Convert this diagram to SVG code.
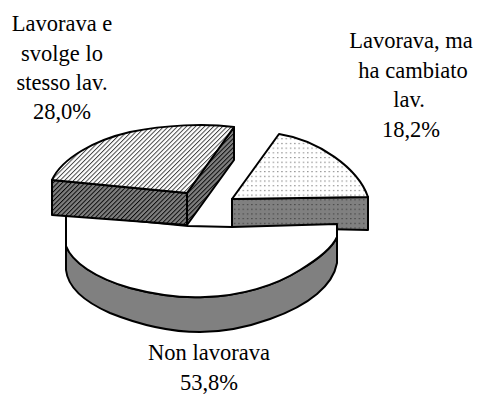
<svg xmlns="http://www.w3.org/2000/svg" width="480" height="397" viewBox="0 0 480 397">
<style>
.o{stroke:#000;stroke-width:2;stroke-linejoin:round}
.t{font-family:'Liberation Serif','Times New Roman',serif;font-size:22.5px;fill:#000;text-anchor:middle}
</style>
<defs>
<pattern id="hl" width="3.2" height="3.2" patternUnits="userSpaceOnUse" patternTransform="rotate(45)"><rect width="3.2" height="3.2" fill="#fff"/><line x1="0.5" y1="0" x2="0.5" y2="3.2" stroke="#333" stroke-width="0.9"/></pattern>
<pattern id="hd" width="3.2" height="3.2" patternUnits="userSpaceOnUse" patternTransform="rotate(45)"><rect width="3.2" height="3.2" fill="#808080"/><line x1="0.5" y1="0" x2="0.5" y2="3.2" stroke="#000" stroke-width="0.9"/></pattern>
<pattern id="dl" width="4.3" height="4.7" patternUnits="userSpaceOnUse"><rect width="4.3" height="4.7" fill="#fff"/><rect x="2" y="2" width="1" height="1" fill="#444"/></pattern>
<pattern id="dd" width="4.3" height="4.7" patternUnits="userSpaceOnUse"><rect width="4.3" height="4.7" fill="#808080"/><rect x="2" y="2" width="1" height="1" fill="#222"/></pattern>
</defs>
<g id="slice-cambiato">
<path class="o" fill="url(#dd)" d="M232,199 L368,197 L368,230 L232,227 Z"/>
<path class="o" fill="url(#dl)" d="M232,199 L279,134 C318,140 358,168 368,197 Z"/>
</g>
<g id="slice-non-lavorava">
<path class="o" fill="#808080" d="M66,246 L66,270 C68,288 85,302 110,313 C140,325 170,332 200,332 C225,332 245,328 270,319 C310,305 333,285 337,263 L337,237 C333,246 320,258 300,270 C275,286 240,296 205,297 C185,298 160,296 130,288 C95,278 72,262 66,246 Z"/>
<path class="o" fill="#fff" d="M66,214 L188,226 L232,227 L337,224 L337,237 C333,246 320,258 300,270 C275,286 240,296 205,297 C185,298 160,296 130,288 C95,278 72,262 66,246 Z"/>
</g>
<g id="slice-stesso">
<path class="o" fill="url(#hd)" d="M52,180 L187,193 L187,225 L52,215 Z"/>
<path class="o" fill="url(#hd)" d="M187,193 L234,127 L234,160 L187,225 Z"/>
<path class="o" fill="url(#hl)" d="M52,180 L187,193 L234,127 C205,123 165,125 130,132 C95,140 62,158 52,180 Z"/>
</g>
<g id="labels">
<text class="t" x="62" y="31">Lavorava e</text>
<text class="t" x="62" y="61">svolge lo</text>
<text class="t" x="62" y="90">stesso lav.</text>
<text class="t" x="62" y="119">28,0%</text>
<text class="t" x="411" y="48">Lavorava, ma</text>
<text class="t" x="413" y="78">ha cambiato</text>
<text class="t" x="409" y="107">lav.</text>
<text class="t" x="411" y="137">18,2%</text>
<text class="t" x="209" y="360">Non lavorava</text>
<text class="t" x="209" y="390">53,8%</text>
</g>
<g id="connectors"/>
</svg>
